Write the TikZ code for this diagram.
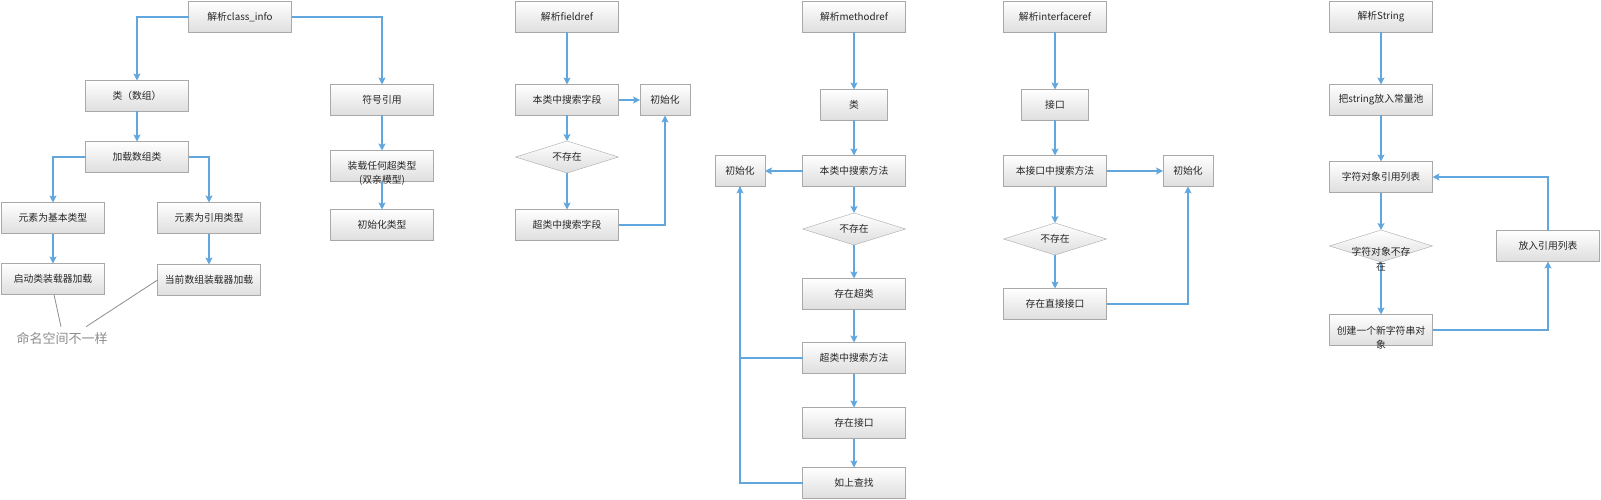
\documentclass[tikz,border=0pt]{standalone}
\usepackage{fontspec}
\setmainfont{Noto Sans CJK SC}
\usetikzlibrary{arrows.meta,shapes.geometric}
\definecolor{flowblue}{HTML}{62A6DE}
\definecolor{boxline}{HTML}{A9A9A9}
\definecolor{notegray}{HTML}{8C8C8C}
\begin{document}
\begin{tikzpicture}[x=1pt,y=-1pt,
	every node/.style={font=\fontsize{9.8}{14.5}\selectfont,text=black!85},
	box/.style={draw=boxline,top color=white,bottom color=black!13,minimum width=103pt,minimum height=31pt,inner sep=0pt,outer sep=0pt},
	smallbox/.style={box,minimum width=50pt},
	midbox/.style={box,minimum width=67pt},
	decide/.style={diamond,aspect=3.2,draw=boxline,top color=white,bottom color=black!13,minimum width=103pt,minimum height=32pt,inner sep=0pt,outer sep=0pt},
	overtext/.style={align=center,inner sep=0pt},
	flow/.style={draw=flowblue,line width=1.1pt,-{Stealth[length=7pt,width=7pt,inset=1.5pt]}},
	link/.style={draw=flowblue,line width=1.1pt}]
	\useasboundingbox (0,0) rectangle (1601,500);
	% class_info
	\node[box] (ci) at (240,17) {解析class\_info};
	\node[box] (arr) at (137,96) {类（数组）};
	\node[box] (sym) at (382,100) {符号引用};
	\node[box] (ldarr) at (137,157) {加载数组类};
	\node[box] (anysup) at (382,166) {};
	\node[overtext] (anysupt) at (382,173.5) {装载任何超类型\\(双亲模型)};
	\node[box] (inittype) at (382,225) {初始化类型};
	\node[box] (elbase) at (53,218) {元素为基本类型};
	\node[box] (elref) at (209,218) {元素为引用类型};
	\node[box] (bootld) at (53,279) {启动类装载器加载};
	\node[box] (curld) at (209,280) {当前数组装载器加载};
	\node[font=\fontsize{13}{15}\selectfont,text=notegray,inner sep=5pt] (ns) at (62,338) {命名空间不一样};
	\draw[flow] (ci.west) -| (arr.north);
	\draw[flow] (ci.east) -| (sym.north);
	\draw[flow] (arr) -- (ldarr);
	\draw[flow] (ldarr.west) -| (elbase.north);
	\draw[flow] (ldarr.east) -| (elref.north);
	\draw[flow] (elbase) -- (bootld);
	\draw[flow] (elref) -- (curld);
	\draw[flow] (sym) -- (anysup);
	\draw[flow] (anysup) -- (inittype);
	\draw[notegray,line width=0.8pt] ([xshift=1pt]bootld.south) -- ([xshift=-1pt]ns.north);
	\draw[notegray,line width=0.8pt] (curld.west) -- ([xshift=24pt]ns.north);
	% fieldref
	\node[box] (fr) at (567,17) {解析fieldref};
	\node[box] (frself) at (567,100) {本类中搜索字段};
	\node[smallbox] (frinit) at (665,100) {初始化};
	\node[decide] (frnot) at (567,157) {不存在};
	\node[box] (frsup) at (567,225) {超类中搜索字段};
	\draw[flow] (fr) -- (frself);
	\draw[flow] (frself) -- (frinit);
	\draw[flow] (frself) -- (frnot);
	\draw[flow] (frnot) -- (frsup);
	\draw[flow] (frsup.east) -| (frinit.south);
	% methodref
	\node[box] (mr) at (854,17) {解析methodref};
	\node[midbox] (mrcls) at (854,105) {类};
	\node[box] (mrself) at (854,171) {本类中搜索方法};
	\node[smallbox] (mrinit) at (740,171) {初始化};
	\node[decide] (mrnot) at (854,229) {不存在};
	\node[box] (mrsup) at (854,294) {存在超类};
	\node[box] (mrsupsr) at (854,358) {超类中搜索方法};
	\node[box] (mritf) at (854,423) {存在接口};
	\node[box] (mrfind) at (854,483) {如上查找};
	\draw[flow] (mr) -- (mrcls);
	\draw[flow] (mrcls) -- (mrself);
	\draw[flow] (mrself) -- (mrinit);
	\draw[flow] (mrself) -- (mrnot);
	\draw[flow] (mrnot) -- (mrsup);
	\draw[flow] (mrsup) -- (mrsupsr);
	\draw[flow] (mrsupsr) -- (mritf);
	\draw[flow] (mritf) -- (mrfind);
	\draw[link] (mrsupsr.west) -| (mrinit.south);
	\draw[flow] (mrfind.west) -| (mrinit.south);
	% interfaceref
	\node[box] (ir) at (1055,17) {解析interfaceref};
	\node[midbox] (iritf) at (1055,105) {接口};
	\node[box] (irself) at (1055,171) {本接口中搜索方法};
	\node[smallbox] (irinit) at (1188,171) {初始化};
	\node[decide] (irnot) at (1055,239) {不存在};
	\node[box] (irdir) at (1055,304) {存在直接接口};
	\draw[flow] (ir) -- (iritf);
	\draw[flow] (iritf) -- (irself);
	\draw[flow] (irself) -- (irinit);
	\draw[flow] (irself) -- (irnot);
	\draw[flow] (irnot) -- (irdir);
	\draw[flow] (irdir.east) -| (irinit.south);
	% String
	\node[box] (st) at (1381,17) {解析String};
	\node[box] (stpool) at (1381,100) {把string放入常量池};
	\node[box] (stlist) at (1381,177) {字符对象引用列表};
	\node[decide] (stnot) at (1381,246) {};
	\node[box] (stnew) at (1381,330) {};
	\node[box] (stput) at (1548,246) {放入引用列表};
	\draw[flow] (st) -- (stpool);
	\draw[flow] (stpool) -- (stlist);
	\draw[flow] (stlist) -- (stnot);
	\draw[flow] (stnot) -- (stnew);
	\draw[flow] (stnew.east) -| (stput.south);
	\draw[flow] (stput.north) |- (stlist.east);
	\node[overtext] (stnott) at (1381,259) {字符对象不存\\在};
	\node[overtext] (stnewt) at (1381,337.5) {创建一个新字符串对\\象};
\end{tikzpicture}
\end{document}
